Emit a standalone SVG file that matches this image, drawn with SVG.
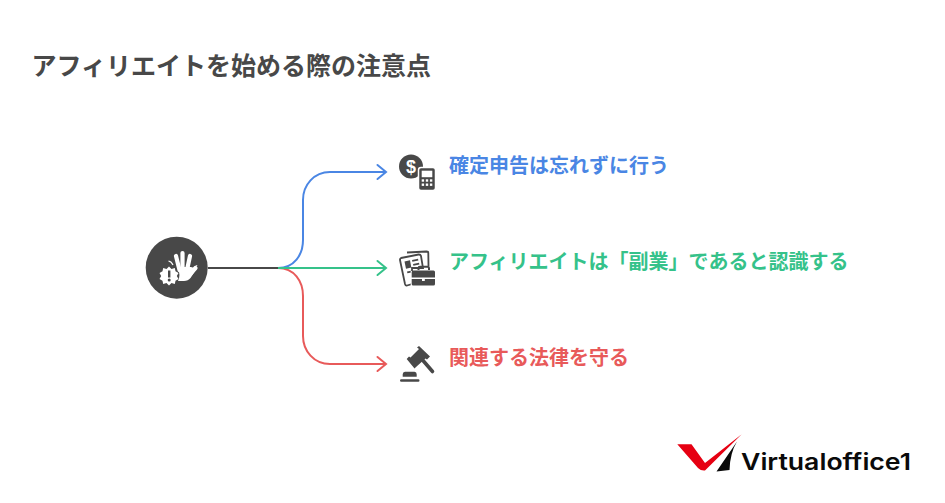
<svg xmlns="http://www.w3.org/2000/svg" width="945" height="503" viewBox="0 0 945 503">
<style>
.t{font-family:"Noto Sans CJK JP","Noto Sans",sans-serif;font-weight:700}
.l{font-size:20px}
.c{fill:none;stroke-width:2}
.d{fill:#484848}
.w{fill:#fff}
.f{fill:none;stroke:#fff;stroke-width:4.200;stroke-linecap:round}
</style>
<defs>
<marker id="ab" markerUnits="userSpaceOnUse" markerWidth="14" markerHeight="18" refX="12" refY="9" orient="auto"><path d="M3.500 2L12 9L3.500 16" fill="none" stroke="#4a86e4" stroke-width="2" stroke-linecap="round"/></marker>
<marker id="ag" markerUnits="userSpaceOnUse" markerWidth="14" markerHeight="18" refX="12" refY="9" orient="auto"><path d="M3.500 2L12 9L3.500 16" fill="none" stroke="#35c28a" stroke-width="2" stroke-linecap="round"/></marker>
<marker id="ar" markerUnits="userSpaceOnUse" markerWidth="14" markerHeight="18" refX="12" refY="9" orient="auto"><path d="M3.500 2L12 9L3.500 16" fill="none" stroke="#e85a5a" stroke-width="2" stroke-linecap="round"/></marker>
</defs>
<rect width="945" height="503" fill="#fff"/>
<text class="t" x="31.500" y="74.500" font-size="25" fill="#484848">アフィリエイトを始める際の注意点</text>
<g id="connectors">
<path class="c" stroke="#4a86e4" marker-end="url(#ab)" d="M278 268C294 268 303 255 303 240V200C303 185 314 172 330 172H386"/>
<path class="c" stroke="#e85a5a" marker-end="url(#ar)" d="M278 268C294 268 303 281 303 296V336C303 351 314 364 330 364H386"/>
<path class="c" stroke="#35c28a" marker-end="url(#ag)" d="M278 268H386"/>
<path class="c" stroke="#484848" d="M208 268H278"/>
</g>
<g id="node-root">
<circle class="d" cx="176.700" cy="267.700" r="31"/>
<path class="f" d="M176 256L179.500 270"/>
<path class="f" d="M182.500 253V268"/>
<path class="f" d="M190 256L187 270"/>
<path class="w" d="M177.500 267H191L194 268Q196 265 198 265.500Q195 264 194 268L195.500 265.500Q197.500 264.500 194.500 267Q199 264.500 194.500 272L190.500 278Q188 281 184 281H178Q181 275 177.500 267Z"/>
<path class="f" d="M191 273L195.500 268" stroke-width="4"/>
<path class="w" d="M169 266.500L171.500 269L174.800 268L175.500 271.300L178.500 273L176.800 276L178.500 279L175.500 280.700L174.800 284L171.500 283L169 285.500L166.500 283L163.200 284L162.500 280.700L159.500 279L161.200 276L159.500 273L162.500 271.300L163.200 268L166.500 269Z"/>
<rect class="d" x="168" y="270.500" width="2.400" height="7"/>
<circle class="d" cx="169.200" cy="280" r="1.500"/>
<path d="M168.500 261Q171.500 261.500 173 265" fill="none" stroke="#fff" stroke-width="1.200"/>
</g>
<g id="node-1">
<circle class="d" cx="411" cy="166.500" r="12"/>
<text x="411" y="173" text-anchor="middle" font-family="Liberation Sans,sans-serif" font-weight="700" font-size="18" fill="#fff">$</text>
<rect x="418.500" y="167.500" width="17" height="23" rx="2.500" fill="#484848" stroke="#fff" stroke-width="1.500"/>
<rect class="w" x="421.700" y="170.700" width="10.600" height="6.500"/>
<g class="w"><rect x="421.700" y="179.300" width="2.400" height="2.400"/><rect x="425.800" y="179.300" width="2.400" height="2.400"/><rect x="429.900" y="179.300" width="2.400" height="2.400"/><rect x="421.700" y="183.500" width="2.400" height="2.400"/><rect x="425.800" y="183.500" width="2.400" height="2.400"/><rect x="429.900" y="183.500" width="2.400" height="2.400"/></g>
<text class="t l" x="449" y="173" fill="#4a86e4">確定申告は忘れずに行う</text>
</g>
<g id="node-2">
<path d="M407 252.500L426.500 251.500Q428.300 251.500 428.300 253L428.500 266" fill="none" stroke="#484848" stroke-width="1.800"/>
<path d="M401 258L418.500 254.500Q420.500 254.300 421 256L423 268H412V284L407 285.500Q405.500 285.800 405 284L400 260Q399.800 258.500 401 258Z" fill="#fff" stroke="#484848" stroke-width="1.800"/>
<path class="d" d="M404.500 261.500L410 260.300L411.300 267.500L406 268.700ZM412 260L418 258.700L418.400 260.500L412.400 261.800ZM413 264L419 262.700L419.400 264.500L413.400 265.800ZM407 271.500L411 270.700L411.400 272.500L407.400 273.300Z"/>
<path d="M418.500 270V268Q418.500 266.700 420 266.700H427.500Q429 266.700 429 268V270" fill="none" stroke="#484848" stroke-width="2"/>
<path d="M410.700 271V286.500H436V271Z" fill="#fff"/>
<path class="d" d="M411.700 272Q411.700 270.500 413.200 270.500H433.500Q435 270.500 435 272V277.500H411.700ZM411.700 279H422V281H424.800V279H435V284Q435 285.500 433.500 285.500H413.200Q411.700 285.500 411.700 284Z"/>
<text class="t l" x="449" y="269" fill="#35c28a">アフィリエイトは「副業」であると認識する</text>
</g>
<g id="node-3">
<path class="d" d="M419 346L430 356.500L427 359.500L425.500 358.500L416 367L414.500 368.500L406.700 359L409 356.500L410.500 357.500L419 349L417 347.500Z"/>
<path d="M423 360.500L432.500 371.500" fill="none" stroke="#484848" stroke-width="3.600" stroke-linecap="round"/>
<path class="d" d="M405 371.700H414.500Q416.700 371.700 416.700 374.200V376.700H402.700V374.200Q402.700 371.700 405 371.700ZM401.200 379.300H418.300Q419.500 379.300 419.500 380.500Q419.500 381.700 418.300 381.700H401.200Q400 381.700 400 380.500Q400 379.300 401.200 379.300Z"/>
<text class="t l" x="449" y="365" fill="#e85a5a">関連する法律を守る</text>
</g>
<g id="logo">
<path fill="#e60012" d="M677.300 444.300H691.500L705 463L741.700 434.300L705 470.500Q701 471 698 468Z"/>
<path fill="#0a0a0a" d="M737 441.500L716.500 471.500L729.500 470Q730 453 737 441.500Z"/>
<text x="741" y="470" font-family="Inter,Liberation Sans,sans-serif" font-weight="600" font-size="23" textLength="170" lengthAdjust="spacingAndGlyphs" fill="#0a0a0a">Virtualoffice1</text>
</g>
</svg>
